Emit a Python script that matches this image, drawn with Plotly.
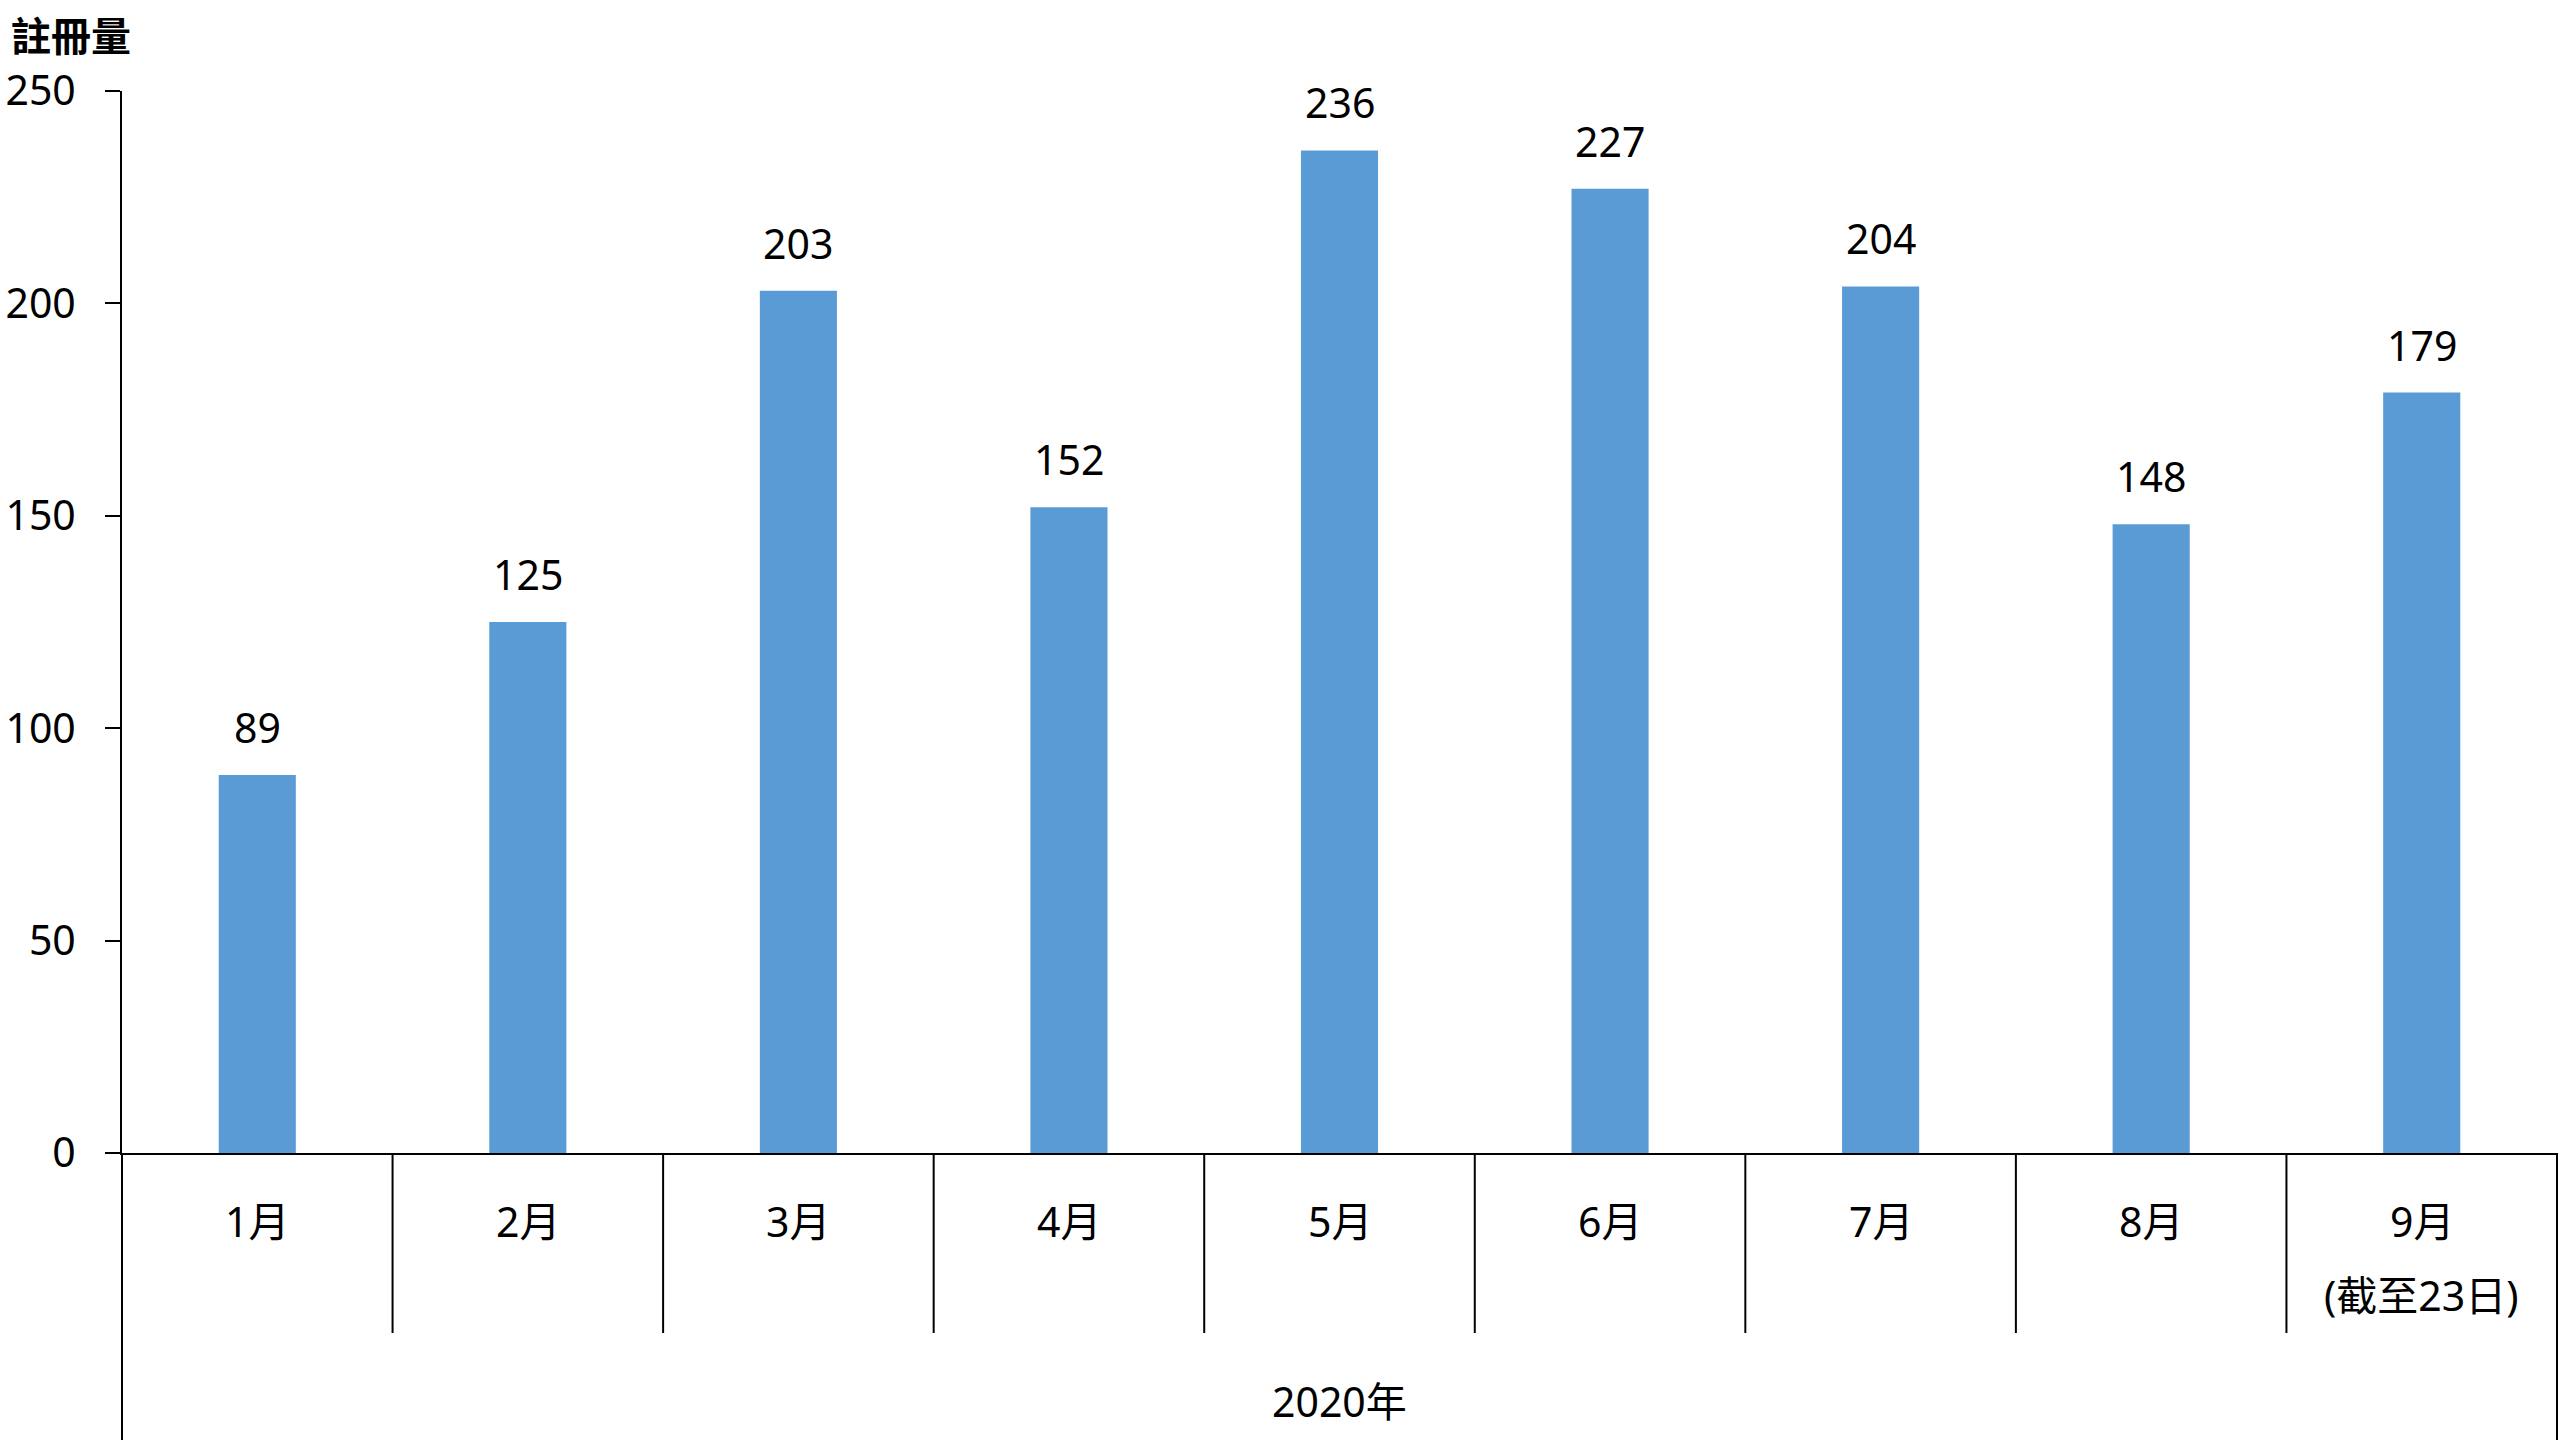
import plotly.graph_objects as go

# ---- data ----
months = ["1月", "2月", "3月", "4月", "5月", "6月", "7月", "8月", "9月"]
sub_labels = ["", "", "", "", "", "", "", "", "(截至23日)"]
values = [89, 125, 203, 152, 236, 227, 204, 148, 179]
year_label = "2020年"
y_title = "註冊量"
y_ticks = [0, 50, 100, 150, 200, 250]

# ---- style ----
W, H = 2560, 1440
ML, MR, MT, MB = 122, 3, 91, 287
PH = H - MT - MB
FONT = "Noto Sans, Noto Sans CJK TC, sans-serif"
FS = 41
BAR = "#5B9BD5"


def py(pix):
    """pixel row -> paper y"""
    return (H - MB - pix) / PH


fig = go.Figure()
fig.add_trace(go.Bar(x=months, y=values, marker=dict(color=BAR, line=dict(width=0)),
                     hoverinfo="skip"))

ann = []
# data labels
for m, v in zip(months, values):
    ann.append(dict(x=m, y=v, xref="x", yref="y", text=str(v), showarrow=False,
                    yanchor="bottom", yshift=18, font=dict(family=FONT, size=FS, color="black")))
# category labels
for m, s in zip(months, sub_labels):
    ann.append(dict(x=m, y=py(1221), xref="x", yref="paper", text=m, showarrow=False,
                    yanchor="middle", font=dict(family=FONT, size=FS, color="black")))
    if s:
        ann.append(dict(x=m, y=py(1295), xref="x", yref="paper", text=s, showarrow=False,
                        yanchor="middle", font=dict(family=FONT, size=FS, color="black")))
ann.append(dict(x=0.5, y=py(1401), xref="paper", yref="paper", text=year_label, showarrow=False,
                yanchor="middle", font=dict(family=FONT, size=FS, color="black")))
# axis title
ann.append(dict(x=(10 - ML) / (W - ML - MR), y=py(34), xref="paper", yref="paper",
                text="<b>" + y_title + "</b>", showarrow=False, xanchor="left", yanchor="middle",
                borderpad=0,
                font=dict(family="Noto Sans CJK TC", size=40, color="black")))

shapes = []
for i in range(len(months) - 1):
    shapes.append(dict(type="line", xref="x", yref="paper", x0=i + 0.5, x1=i + 0.5,
                       y0=0, y1=py(1333), line=dict(color="black", width=2)))
for xp in (0, 1):
    shapes.append(dict(type="line", xref="paper", yref="paper", x0=xp, x1=xp,
                       y0=0, y1=py(1440), line=dict(color="black", width=2)))

fig.update_layout(
    width=W, height=H,
    margin=dict(l=ML, r=MR, t=MT, b=MB, pad=0, autoexpand=False),
    paper_bgcolor="white", plot_bgcolor="white",
    bargap=0.715, showlegend=False,
    annotations=ann, shapes=shapes,
    font=dict(family=FONT, size=FS, color="black"),
)
fig.update_xaxes(type="category", range=[-0.5, len(months) - 0.5], showticklabels=False,
                 ticks="", showline=True, linecolor="black", linewidth=2, showgrid=False,
                 zeroline=False, automargin=False)
fig.update_yaxes(range=[0, 250], tickvals=y_ticks, ticks="outside", ticklen=15, tickwidth=2,
                 tickcolor="black", showline=True, linecolor="black", linewidth=2,
                 showgrid=False, zeroline=False, ticklabelstandoff=21, automargin=False,
                 tickfont=dict(family=FONT, size=FS, color="black"))

fig.write_html("out.html", config={"displayModeBar": False},
               post_script="document.body.style.margin='0';")
